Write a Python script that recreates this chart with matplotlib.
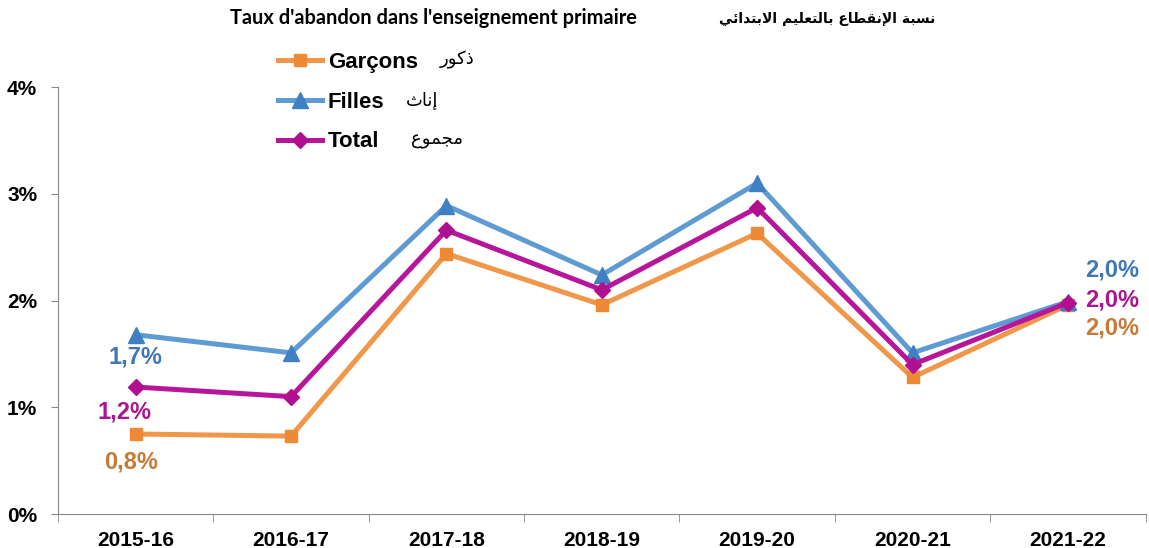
import matplotlib.pyplot as plt
import numpy as np

years = ['2015-16', '2016-17', '2017-18', '2018-19', '2019-20', '2020-21', '2021-22']
garcons = [0.75, 0.73, 2.44, 1.96, 2.63, 1.28, 1.96]
filles = [1.68, 1.51, 2.89, 2.24, 3.10, 1.51, 1.99]
total = [1.19, 1.10, 2.66, 2.10, 2.87, 1.40, 1.98]

# Arabic presentation forms: isolated, final, initial, medial
AR_FORMS = {
    'ا': (0xFE8D, 0xFE8E, None, None),
    'إ': (0xFE87, 0xFE88, None, None),
    'ب': (0xFE8F, 0xFE90, 0xFE91, 0xFE92),
    'ة': (0xFE93, 0xFE94, None, None),
    'ت': (0xFE95, 0xFE96, 0xFE97, 0xFE98),
    'ث': (0xFE99, 0xFE9A, 0xFE9B, 0xFE9C),
    'ج': (0xFE9D, 0xFE9E, 0xFE9F, 0xFEA0),
    'د': (0xFEA9, 0xFEAA, None, None),
    'ذ': (0xFEAB, 0xFEAC, None, None),
    'ر': (0xFEAD, 0xFEAE, None, None),
    'س': (0xFEB1, 0xFEB2, 0xFEB3, 0xFEB4),
    'ط': (0xFEC1, 0xFEC2, 0xFEC3, 0xFEC4),
    'ع': (0xFEC9, 0xFECA, 0xFECB, 0xFECC),
    'ق': (0xFED5, 0xFED6, 0xFED7, 0xFED8),
    'ك': (0xFED9, 0xFEDA, 0xFEDB, 0xFEDC),
    'ل': (0xFEDD, 0xFEDE, 0xFEDF, 0xFEE0),
    'م': (0xFEE1, 0xFEE2, 0xFEE3, 0xFEE4),
    'ن': (0xFEE5, 0xFEE6, 0xFEE7, 0xFEE8),
    'و': (0xFEED, 0xFEEE, None, None),
    'ي': (0xFEF1, 0xFEF2, 0xFEF3, 0xFEF4),
    'ئ': (0xFE89, 0xFE8A, 0xFE8B, 0xFE8C),
}
LAM_ALEF = {'ا': (0xFEFB, 0xFEFC), 'إ': (0xFEF9, 0xFEFA)}


def shape_ar(text):
    words = []
    for word in text.split(' '):
        glyphs = []
        prev_joins = False
        i = 0
        while i < len(word):
            ch = word[i]
            nxt = word[i + 1] if i + 1 < len(word) else None
            if ch == 'ل' and nxt in LAM_ALEF:
                glyphs.append(chr(LAM_ALEF[nxt][1 if prev_joins else 0]))
                prev_joins = False
                i += 2
                continue
            iso, fin, ini, med = AR_FORMS[ch]
            joins_next = ini is not None and nxt is not None
            if prev_joins and joins_next:
                g = med
            elif prev_joins:
                g = fin
            elif joins_next:
                g = ini
            else:
                g = iso
            glyphs.append(chr(g))
            prev_joins = joins_next
            i += 1
        words.append(''.join(reversed(glyphs)))
    return ' '.join(reversed(words))


plt.rcParams['font.family'] = ['Liberation Sans', 'DejaVu Sans']

fig = plt.figure(figsize=(11.49, 5.48), dpi=100)
ax = fig.add_axes([0.0505, 0.062, 0.9465, 0.779])

x = np.arange(len(years))
c_g, c_f, c_t = '#F0974A', '#5E9BD3', '#B8169A'
ax.plot(x, garcons, color=c_g, lw=3.6, marker='s', ms=9, mfc='#EE8A35', mec='#EE8A35', label='Garçons')
ax.plot(x, filles, color=c_f, lw=3.6, marker='^', ms=11, mfc='#3F7FC4', mec='#3F7FC4', label='Filles')
ax.plot(x, total, color=c_t, lw=3.6, marker='D', ms=8, mfc='#B0108F', mec='#B0108F', label='Total')

lab_kw = dict(textcoords='offset pixels', fontsize=17, fontweight='bold', va='center')
ax.annotate('1,7%', (0, filles[0]), xytext=(0, -22), color='#3F78B5', ha='center', **lab_kw)
ax.annotate('1,2%', (0, total[0]), xytext=(-11, -25), color='#A8178F', ha='center', **lab_kw)
ax.annotate('0,8%', (0, garcons[0]), xytext=(-5, -28), color='#C77A35', ha='center', **lab_kw)
ax.annotate('2,0%', (6, filles[6]), xytext=(17, 32), color='#3F78B5', ha='left', **lab_kw)
ax.annotate('2,0%', (6, total[6]), xytext=(17, 3), color='#A8178F', ha='left', **lab_kw)
ax.annotate('2,0%', (6, garcons[6]), xytext=(17, -23), color='#C77A35', ha='left', **lab_kw)

ax.set_xlim(-0.5, 6.5)
ax.set_ylim(0, 4)
ax.set_yticks([0, 1, 2, 3, 4])
ax.set_yticklabels(['0%', '1%', '2%', '3%', '4%'], fontsize=15, fontweight='bold')
ax.set_xticks(x)
ax.set_xticklabels(years, fontsize=15, fontweight='bold')
ax.set_xticks(np.arange(-0.5, 7, 1), minor=True)
ax.tick_params(axis='x', which='major', length=0, pad=12)
ax.tick_params(axis='x', which='minor', length=6, color='#888888', direction='out')
ax.tick_params(axis='y', length=5, color='#888888', pad=10)
for s in ['top', 'right']:
    ax.spines[s].set_visible(False)
for s in ['left', 'bottom']:
    ax.spines[s].set_color('#888888')

leg = ax.legend(loc='upper left', bbox_to_anchor=(0.238, 0.913), bbox_transform=fig.transFigure,
                frameon=False, prop={'size': 16, 'weight': 'bold'}, handlelength=2.0,
                handletextpad=0.25, labelspacing=0.84, borderaxespad=0, borderpad=0.2)

fig.text(0.413, 0.8905, shape_ar('ذكور'), family='DejaVu Sans', fontsize=13, va='center', ha='right')
fig.text(0.381, 0.8175, shape_ar('إناث'), family='DejaVu Sans', fontsize=13, va='center', ha='right')
fig.text(0.403, 0.745, shape_ar('مجموع'), family='DejaVu Sans', fontsize=13, va='center', ha='right')

fig.text(0.2, 0.967, "Taux d'abandon dans l'enseignement primaire", family=['Lato', 'DejaVu Sans'],
         fontsize=14.4, fontweight='bold', va='center', ha='left')
fig.text(0.814, 0.965, shape_ar('نسبة الإنقطاع بالتعليم الابتدائي'), family='DejaVu Sans',
         fontsize=10, fontweight='bold', va='center', ha='right')

fig.savefig('out.png', dpi=100)
